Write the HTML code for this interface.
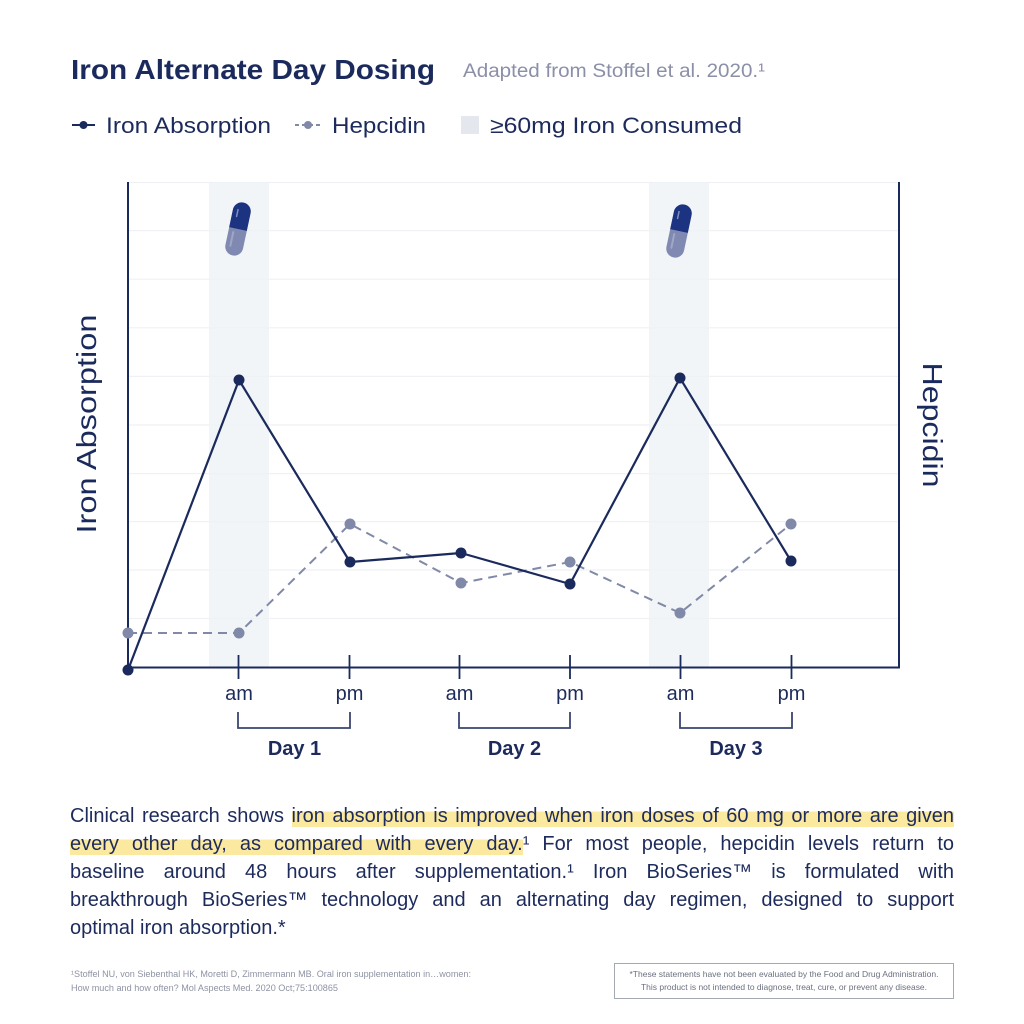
<!DOCTYPE html>
<html>
<head>
<meta charset="utf-8">
<style>
  html, body { margin:0; padding:0; background:#ffffff; }
  body { width:1024px; height:1024px; position:relative; overflow:hidden; font-family:"Liberation Sans", sans-serif; }
  svg { position:absolute; left:0; top:0; }
  .para { position:absolute; left:70px; top:802px; width:884px; font-size:20px; line-height:28px; color:#1d2b5c; font-family:"Liberation Sans", sans-serif; }
  .l { text-align:justify; text-align-last:justify; height:28px; }
  .l.last { text-align:left; text-align-last:left; }
  .hl { background:linear-gradient(to bottom, transparent 30%, #fbe9a0 30%, #fbe9a0 100%); }
</style>
</head>
<body>
<svg width="1024" height="1024" viewBox="0 0 1024 1024" xmlns="http://www.w3.org/2000/svg">
  <!-- Title -->
  <text x="71" y="79" font-family="Liberation Sans, sans-serif" font-weight="bold" font-size="28" fill="#1b2a5c" textLength="364" lengthAdjust="spacingAndGlyphs">Iron Alternate Day Dosing</text>
  <text x="463" y="77" font-family="Liberation Sans, sans-serif" font-size="19" fill="#8b90a8" textLength="302" lengthAdjust="spacingAndGlyphs">Adapted from Stoffel et al. 2020.¹</text>

  <!-- Legend -->
  <line x1="72" y1="125" x2="95" y2="125" stroke="#1b2a5c" stroke-width="2"/>
  <circle cx="83.5" cy="125" r="4" fill="#1b2a5c"/>
  <text x="106" y="133" font-family="Liberation Sans, sans-serif" font-size="22" fill="#1d2b5c" textLength="165" lengthAdjust="spacingAndGlyphs">Iron Absorption</text>
  <line x1="295" y1="125" x2="321" y2="125" stroke="#8189a8" stroke-width="2" stroke-dasharray="4 3"/>
  <circle cx="308" cy="125" r="4" fill="#8189a8"/>
  <text x="332" y="133" font-family="Liberation Sans, sans-serif" font-size="22" fill="#1d2b5c" textLength="94" lengthAdjust="spacingAndGlyphs">Hepcidin</text>
  <rect x="461" y="116" width="18" height="18" fill="#e4e7ee"/>
  <text x="490" y="133" font-family="Liberation Sans, sans-serif" font-size="22" fill="#1d2b5c" textLength="252" lengthAdjust="spacingAndGlyphs">≥60mg Iron Consumed</text>

  <!-- Grid -->
  <g stroke="#eff1f4" stroke-width="1.2">
    <line x1="128" y1="182.5" x2="899" y2="182.5"/>
    <line x1="128" y1="230.6" x2="899" y2="230.6"/>
    <line x1="128" y1="279.2" x2="899" y2="279.2"/>
    <line x1="128" y1="327.8" x2="899" y2="327.8"/>
    <line x1="128" y1="376.4" x2="899" y2="376.4"/>
    <line x1="128" y1="425" x2="899" y2="425"/>
    <line x1="128" y1="473.6" x2="899" y2="473.6"/>
    <line x1="128" y1="521.6" x2="899" y2="521.6"/>
    <line x1="128" y1="570" x2="899" y2="570"/>
    <line x1="128" y1="618.5" x2="899" y2="618.5"/>
  </g>

  <!-- Shaded bands -->
  <rect x="209" y="182" width="60" height="485" fill="#eef2f5" opacity="0.8"/>
  <rect x="649" y="182" width="60" height="485" fill="#eef2f5" opacity="0.8"/>

  <!-- Pills -->
  <g transform="translate(238,229) rotate(12)">
    <rect x="-9" y="-27" width="18" height="54" rx="9" fill="#8089b2"/>
    <path d="M -9 0 L -9 -18 A 9 9 0 0 1 9 -18 L 9 0 Z" fill="#1c3382"/>
    <line x1="-4" y1="-19" x2="-4" y2="-12" stroke="#ffffff" stroke-opacity="0.45" stroke-width="1.5" stroke-linecap="round"/>
    <line x1="-4" y1="4" x2="-4" y2="18" stroke="#ffffff" stroke-opacity="0.25" stroke-width="2" stroke-linecap="round"/>
  </g>
  <g transform="translate(679,231) rotate(12)">
    <rect x="-9" y="-27" width="18" height="54" rx="9" fill="#8089b2"/>
    <path d="M -9 0 L -9 -18 A 9 9 0 0 1 9 -18 L 9 0 Z" fill="#1c3382"/>
    <line x1="-4" y1="-19" x2="-4" y2="-12" stroke="#ffffff" stroke-opacity="0.45" stroke-width="1.5" stroke-linecap="round"/>
    <line x1="-4" y1="4" x2="-4" y2="18" stroke="#ffffff" stroke-opacity="0.25" stroke-width="2" stroke-linecap="round"/>
  </g>

  <!-- Axes -->
  <g stroke="#1b2a5c" stroke-width="2" fill="none">
    <line x1="128" y1="182" x2="128" y2="668"/>
    <line x1="127" y1="667.5" x2="900" y2="667.5"/>
    <line x1="899" y1="182" x2="899" y2="668.5"/>
  </g>
  <!-- Ticks -->
  <g stroke="#1b2a5c" stroke-width="1.8">
    <line x1="238.5" y1="655" x2="238.5" y2="679"/>
    <line x1="349.5" y1="655" x2="349.5" y2="679"/>
    <line x1="459.5" y1="655" x2="459.5" y2="679"/>
    <line x1="570" y1="655" x2="570" y2="679"/>
    <line x1="680.5" y1="655" x2="680.5" y2="679"/>
    <line x1="791.5" y1="655" x2="791.5" y2="679"/>
  </g>
  <!-- am/pm labels -->
  <g font-family="Liberation Sans, sans-serif" font-size="20" fill="#1d2b5c" text-anchor="middle">
    <text x="239" y="700">am</text>
    <text x="349.5" y="700">pm</text>
    <text x="459.5" y="700">am</text>
    <text x="570" y="700">pm</text>
    <text x="680.5" y="700">am</text>
    <text x="791.5" y="700">pm</text>
  </g>
  <!-- Brackets -->
  <g stroke="#3a4670" stroke-width="1.8" fill="none">
    <polyline points="238,712 238,728 350,728 350,712"/>
    <polyline points="459,712 459,728 570,728 570,712"/>
    <polyline points="680,712 680,728 792,728 792,712"/>
  </g>
  <g font-family="Liberation Sans, sans-serif" font-size="20" font-weight="bold" fill="#1d2b5c" text-anchor="middle">
    <text x="294.5" y="755">Day 1</text>
    <text x="514.5" y="755">Day 2</text>
    <text x="736" y="755">Day 3</text>
  </g>

  <!-- Axis titles -->
  <text transform="translate(96,424) rotate(-90)" text-anchor="middle" font-family="Liberation Sans, sans-serif" font-size="28" fill="#1b2a5c" textLength="219" lengthAdjust="spacingAndGlyphs">Iron Absorption</text>
  <text transform="translate(923,425) rotate(90)" text-anchor="middle" font-family="Liberation Sans, sans-serif" font-size="28" fill="#1b2a5c" textLength="125" lengthAdjust="spacingAndGlyphs">Hepcidin</text>

  <!-- Hepcidin series -->
  <polyline points="128,633 239,633 350,524 461,583 570,562 680,613 791,524" fill="none" stroke="#8189a8" stroke-width="2" stroke-dasharray="9 6"/>
  <!-- Iron series -->
  <polyline points="128,670 239,380 350,562 461,553 570,584 680,378 791,561" fill="none" stroke="#1b2a5c" stroke-width="2.2" stroke-linejoin="round"/>
  <g fill="#8189a8">
    <circle cx="128" cy="633" r="5.5"/>
    <circle cx="239" cy="633" r="5.5"/>
    <circle cx="350" cy="524" r="5.5"/>
    <circle cx="461" cy="583" r="5.5"/>
    <circle cx="570" cy="562" r="5.5"/>
    <circle cx="680" cy="613" r="5.5"/>
    <circle cx="791" cy="524" r="5.5"/>
  </g>
  <g fill="#1b2a5c">
    <circle cx="128" cy="670" r="5.5"/>
    <circle cx="239" cy="380" r="5.5"/>
    <circle cx="350" cy="562" r="5.5"/>
    <circle cx="461" cy="553" r="5.5"/>
    <circle cx="570" cy="584" r="5.5"/>
    <circle cx="680" cy="378" r="5.5"/>
    <circle cx="791" cy="561" r="5.5"/>
  </g>

  <!-- Footer -->
  <g font-family="Liberation Sans, sans-serif" font-size="9" fill="#8e92a3">
    <text x="71" y="977" textLength="400" lengthAdjust="spacingAndGlyphs">¹Stoffel NU, von Siebenthal HK, Moretti D, Zimmermann MB. Oral iron supplementation in…women:</text>
    <text x="71" y="991" textLength="267" lengthAdjust="spacingAndGlyphs">How much and how often? Mol Aspects Med. 2020 Oct;75:100865</text>
  </g>
  <rect x="614.5" y="963.5" width="339" height="35" fill="none" stroke="#a4a8b3" stroke-width="1"/>
  <g font-family="Liberation Sans, sans-serif" font-size="8.5" fill="#6b7080" text-anchor="middle">
    <text x="784" y="977" textLength="309" lengthAdjust="spacingAndGlyphs">*These statements have not been evaluated by the Food and Drug Administration.</text>
    <text x="784" y="990" textLength="286" lengthAdjust="spacingAndGlyphs">This product is not intended to diagnose, treat, cure, or prevent any disease.</text>
  </g>
</svg>

<div class="para">
  <div class="l">Clinical research shows <span class="hl">iron absorption is improved when iron doses of 60 mg or more are given</span></div>
  <div class="l"><span class="hl">every other day, as compared with every day.</span>¹ For most people, hepcidin levels return to</div>
  <div class="l">baseline around 48 hours after supplementation.¹ Iron BioSeries™ is formulated with</div>
  <div class="l">breakthrough BioSeries™ technology and an alternating day regimen, designed to support</div>
  <div class="l last">optimal iron absorption.*</div>
</div>
</body>
</html>
